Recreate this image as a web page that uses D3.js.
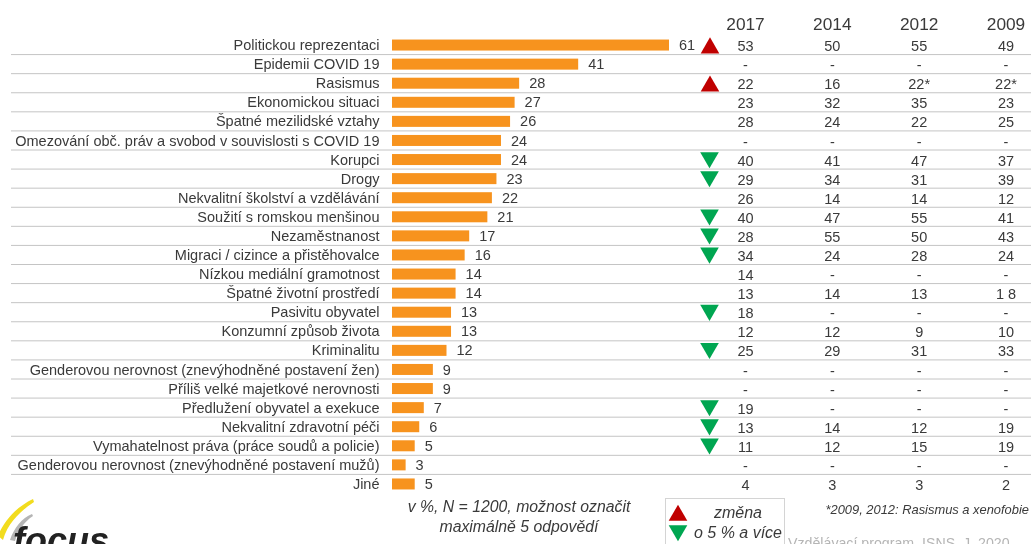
<!DOCTYPE html>
<html>
<head>
<meta charset="utf-8">
<script src="https://cdn.jsdelivr.net/npm/d3@7"></script>
<style>
  html, body { margin: 0; padding: 0; background: #fff; overflow: hidden; }
  svg { display: block; filter: blur(0.4px); }
  text { font-family: "Liberation Sans", Arial, sans-serif; }
</style>
</head>
<body>
<script>
(function() {

    var width = 1031;
    var height = 544;

    //categories and the 2020 values
    const categories = [
        "Politickou reprezentaci", "Epidemii COVID 19", "Rasismus", "Ekonomickou situaci",
        "Špatné mezilidské vztahy", "Omezování obč. práv a svobod v souvislosti s COVID 19",
        "Korupci", "Drogy", "Nekvalitní školství a vzdělávání", "Soužití s romskou menšinou",
        "Nezaměstnanost", "Migraci / cizince a přistěhovalce", "Nízkou mediální gramotnost",
        "Špatné životní prostředí", "Pasivitu obyvatel", "Konzumní způsob života", "Kriminalitu",
        "Genderovou nerovnost (znevýhodněné postavení žen)", "Příliš velké majetkové nerovnosti",
        "Předlužení obyvatel a exekuce", "Nekvalitní zdravotní péči",
        "Vymahatelnost práva (práce soudů a policie)",
        "Genderovou nerovnost (znevýhodněné postavení mužů)", "Jiné"
    ];
    const values = [61, 41, 28, 27, 26, 24, 24, 23, 22, 21, 17, 16, 14, 14, 13, 13, 12, 9, 9, 7, 6, 5, 3, 5];

    //change markers, 1 up, -1 down, 0 nothing
    const changes = [1, 0, 1, 0, 0, 0, -1, -1, 0, -1, -1, -1, 0, 0, -1, 0, -1, 0, 0, -1, -1, -1, 0, 0];

    //older years, shown as a table
    const years = ["2017", "2014", "2012", "2009"];
    const v2017 = ["53", "-", "22", "23", "28", "-", "40", "29", "26", "40", "28", "34", "14", "13", "18", "12", "25", "-", "-", "19", "13", "11", "-", "4"];
    const v2014 = ["50", "-", "16", "32", "24", "-", "41", "34", "14", "47", "55", "24", "-", "14", "-", "12", "29", "-", "-", "-", "14", "12", "-", "3"];
    const v2012 = ["55", "-", "22*", "35", "22", "-", "47", "31", "14", "55", "50", "28", "-", "13", "-", "9", "31", "-", "-", "-", "12", "15", "-", "3"];
    const v2009 = ["49", "-", "22*", "23", "25", "-", "37", "39", "12", "41", "43", "24", "-", "1 8", "-", "10", "33", "-", "-", "-", "19", "19", "-", "2"];
    const yearValues = [v2017, v2014, v2012, v2009];

    const colors = { bar: "#f7931e", up: "#c00000", down: "#00a651", text: "#3a3a3a", rule: "#c4c4c4" };

    //Create the SVG elements
    const svg = d3.select("body")
      .append("svg")
      .attr("width", width)
      .attr("height", height);

    //scales
    const x = d3.scaleLinear().domain([0, 61]).range([392, 669]);
    const y = d3.scaleBand().domain(categories).range([35.5, 493.5]);
    const yearX = d3.scalePoint().domain(years).range([745.5, 1006]);
    const mid = d => y(d) + y.bandwidth() / 2;

    //row rules under every row but the last
    svg.selectAll("line.rule")
        .data(categories.slice(0, -1))
        .join("line")
        .attr("class", "rule")
        .attr("x1", 11)
        .attr("x2", width)
        .attr("y1", d => y(d) + y.bandwidth())
        .attr("y2", d => y(d) + y.bandwidth())
        .attr("stroke", colors.rule)
        .attr("stroke-width", 1);

    //category labels
    svg.selectAll("text.cat")
        .data(categories)
        .join("text")
        .attr("class", "cat")
        .attr("x", 379.5)
        .attr("y", d => mid(d))
        .attr("dy", "0.35em")
        .attr("text-anchor", "end")
        .attr("font-size", 14.5)
        .attr("fill", colors.text)
        .text(d => d);

    //bars
    svg.selectAll("rect.bar")
        .data(values)
        .join("rect")
        .attr("class", "bar")
        .attr("x", x(0))
        .attr("y", (d, i) => mid(categories[i]) - 5.5)
        .attr("width", d => x(d) - x(0))
        .attr("height", 11)
        .attr("fill", colors.bar);

    //bar values
    svg.selectAll("text.val")
        .data(values)
        .join("text")
        .attr("class", "val")
        .attr("x", d => x(d) + 10)
        .attr("y", (d, i) => mid(categories[i]))
        .attr("dy", "0.35em")
        .attr("font-size", 14.5)
        .attr("fill", colors.text)
        .text(d => d);

    //triangles
    const tri = d3.symbol().type(d3.symbolTriangle).size(150);
    svg.selectAll("path.change")
        .data(changes.map((c, i) => ({ c: c, cat: categories[i] })).filter(d => d.c !== 0))
        .join("path")
        .attr("class", "change")
        .attr("d", tri)
        .attr("transform", d => d.c > 0
            ? `translate(710,${mid(d.cat) + 3})`
            : `translate(709.5,${mid(d.cat) - 2}) rotate(180)`)
        .attr("fill", d => d.c > 0 ? colors.up : colors.down);

    //year headers
    svg.selectAll("text.year")
        .data(years)
        .join("text")
        .attr("class", "year")
        .attr("x", d => yearX(d))
        .attr("y", 30)
        .attr("text-anchor", "middle")
        .attr("font-size", 17.3)
        .attr("fill", colors.text)
        .text(d => d);

    //year columns
    years.forEach((yr, k) => {
        svg.selectAll("text.col" + yr)
            .data(yearValues[k])
            .join("text")
            .attr("class", "col" + yr)
            .attr("x", yearX(yr))
            .attr("y", (d, i) => mid(categories[i]) + 1)
            .attr("dy", "0.35em")
            .attr("text-anchor", "middle")
            .attr("font-size", 14.5)
            .attr("fill", colors.text)
            .text(d => d);
    });

    //note under the bars
    const note = svg.append("text")
        .attr("text-anchor", "middle")
        .attr("font-size", 15.8)
        .attr("font-style", "italic")
        .attr("fill", colors.text);
    note.append("tspan").attr("x", 519).attr("y", 512).text("v %, N = 1200, možnost označit");
    note.append("tspan").attr("x", 519).attr("y", 532).text("maximálně 5 odpovědí");

    //legend box
    svg.append("rect")
        .attr("x", 665.5).attr("y", 498.5)
        .attr("width", 119).attr("height", 50)
        .attr("fill", "#fff")
        .attr("stroke", "#d4d4d4");
    svg.append("path").attr("d", tri)
        .attr("transform", "translate(678,515.5)").attr("fill", colors.up);
    svg.append("path").attr("d", tri)
        .attr("transform", "translate(678,530.5) rotate(180)").attr("fill", colors.down);
    svg.append("text").attr("x", 738).attr("y", 518)
        .attr("text-anchor", "middle").attr("font-size", 16).attr("font-style", "italic")
        .attr("fill", colors.text).text("změna");
    svg.append("text").attr("x", 738).attr("y", 538)
        .attr("text-anchor", "middle").attr("font-size", 16).attr("font-style", "italic")
        .attr("fill", colors.text).text("o 5 % a více");

    //footnote and source
    svg.append("text").attr("x", 1029).attr("y", 514)
        .attr("text-anchor", "end").attr("font-size", 12.9).attr("font-style", "italic")
        .attr("fill", colors.text).text("*2009, 2012: Rasismus a xenofobie");
    svg.append("text").attr("x", 788).attr("y", 548)
        .attr("font-size", 14.2)
        .attr("fill", "#b5b5b5").text("Vzdělávací program, ISNS, J. 2020");

    //logo
    svg.append("path")
        .attr("d", "M-2,536 C4,520 18,506 33,499 L34,502 C22,510 8,522 3,540 Z")
        .attr("fill", "#f2dc1e");
    svg.append("path")
        .attr("d", "M10,540 C14,528 22,518 32,514 L33,516 C24,522 18,530 15,541 Z")
        .attr("fill", "#b5b5b5");
    svg.append("text").attr("x", 13).attr("y", 553)
        .attr("font-size", 36).attr("font-weight", "bold").attr("font-style", "italic")
        .attr("fill", "#222").text("focus");
})();
</script>
</body>
</html>
